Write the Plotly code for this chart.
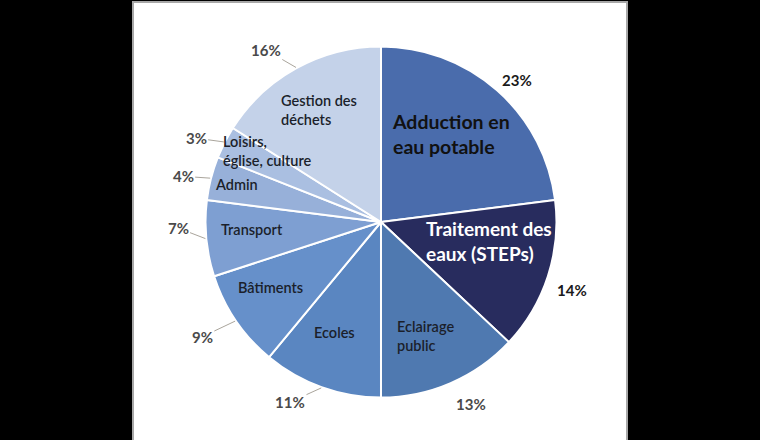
import math
import plotly.graph_objects as go

# ---- data ----
categories = ["Adduction en<br>eau potable", "Traitement des<br>eaux (STEPs)", "Eclairage<br>public",
              "Ecoles", "Bâtiments", "Transport", "Admin", "Loisirs,<br>église, culture",
              "Gestion des<br>déchets"]
shares = [23, 14, 13, 11, 9, 7, 4, 3, 16]

# ---- styles ----
colors = ["#4a6cac", "#282c5e", "#4f79b0", "#5a86c1", "#6690ca", "#7e9fd2",
          "#97b0d9", "#aabfe1", "#c4d2e9"]
label_r = [0.64, 0.625, 0.70, 0.68, 0.735, 0.735, 0.85, 0.76, 0.73]
label_dtheta = [-2.6, -8, 2, 3, 3.5, 2, 0, 5, 0]
label_size = [19.5, 19, 14.5, 14.5, 14.5, 14.5, 14.5, 14.5, 14.5]
label_color = ["#111111", "#ffffff"] + ["#1b1f2b"] * 7
label_weight = ["bold", "bold"] + [600] * 7

pct_r = [1.12, 1.155, 1.16, 1.15, 1.21, 1.157, 1.157, 1.157, 1.18]
pct_dtheta = [2.4, 1.6, -3, 7, 1.5, 3.7, -1.4, -2.6, -5]
pct_leader = [False, False, False, True, True, True, True, True, True]
pct_color = ["#1a1a1a", "#1a1a1a"] + ["#4a4a4a"] * 7

W, H = 760, 440
dom_x = [0.2704, 0.7322]
dom_y = [0.0966, 0.8943]

fig = go.Figure()
fig.add_trace(go.Pie(
    values=shares,
    labels=[c.replace("<br>", " ") for c in categories],
    sort=False,
    direction="clockwise",
    rotation=0,
    marker=dict(colors=colors, line=dict(color="white", width=2)),
    textinfo="none",
    domain=dict(x=dom_x, y=dom_y),
    showlegend=False,
    hoverinfo="label+percent",
))

# label positions derived from the data's cumulative angles
cx = (dom_x[0] + dom_x[1]) / 2 * W
cy = H - (dom_y[0] + dom_y[1]) / 2 * H
R = min((dom_x[1] - dom_x[0]) * W, (dom_y[1] - dom_y[0]) * H) / 2
total = sum(shares)


def polar(angle_deg, radius):
    th = math.radians(angle_deg)
    return cx + radius * math.sin(th), cy - radius * math.cos(th)


annotations = []
cum = 0
for i, (cat, v) in enumerate(zip(categories, shares)):
    mid = (cum + v / 2) / total * 360
    cum += v
    # category label inside the slice
    px, py = polar(mid + label_dtheta[i], label_r[i] * R)
    annotations.append(dict(
        x=px / W, y=1 - py / H, xref="paper", yref="paper",
        text=cat, showarrow=False, align="left",
        xanchor="center", yanchor="middle",
        font=dict(family="Lato", size=label_size[i], color=label_color[i],
                  weight=label_weight[i]),
    ))
    # percentage label outside the slice
    pct_text = f"{round(100 * v / total)}%"
    lx, ly = polar(mid + pct_dtheta[i], pct_r[i] * R)
    pfont = dict(family="Lato", size=15, color=pct_color[i], weight="bold")
    if pct_leader[i]:
        ex, ey = polar(mid, R * 1.005)
        annotations.append(dict(
            x=ex / W, y=1 - ey / H, xref="paper", yref="paper",
            ax=lx - ex, ay=ly - ey, axref="pixel", ayref="pixel",
            text=pct_text, showarrow=True, arrowhead=0, arrowwidth=1,
            arrowcolor="#aaa59c", standoff=0, font=pfont,
        ))
    else:
        annotations.append(dict(
            x=lx / W, y=1 - ly / H, xref="paper", yref="paper",
            text=pct_text, showarrow=False,
            xanchor="center", yanchor="middle", font=pfont,
        ))

fig.update_layout(
    width=W, height=H,
    margin=dict(l=0, r=0, t=0, b=0),
    paper_bgcolor="black",
    annotations=annotations,
    shapes=[dict(type="rect", xref="paper", yref="paper",
                 x0=133 / W, x1=627 / W, y0=-0.02, y1=1 - 2 / H,
                 fillcolor="white", line=dict(color="#a8a8a8", width=2),
                 layer="below")],
)

fig.write_html("out.html", config={"displayModeBar": False},
               post_script="document.body.style.margin='0px';")
